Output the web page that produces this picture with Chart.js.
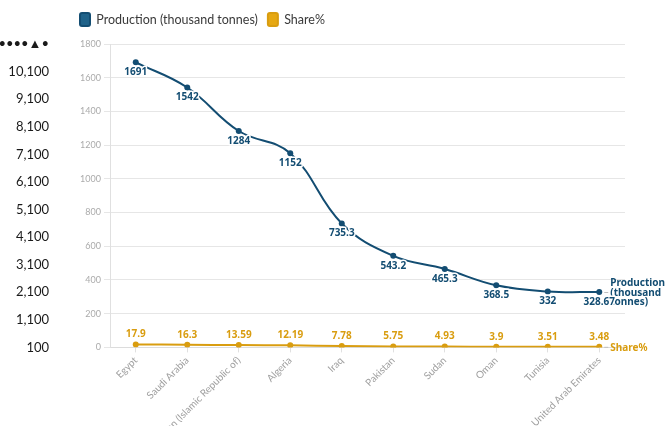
<!DOCTYPE html>
<html>
<head>
<meta charset="utf-8">
<script src="https://cdn.jsdelivr.net/npm/chart.js@4.4.1/dist/chart.umd.min.js"></script>
<style>
html,body{margin:0;padding:0;background:#fff;overflow:hidden;}
#wrap{width:665px;height:440px;}
</style>
</head>
<body>
<div id="wrap"><canvas id="c" width="665" height="440"></canvas></div>
<script>
const categories = ["Egypt","Saudi Arabia","Iran (Islamic Republic of)","Algeria","Iraq","Pakistan","Sudan","Oman","Tunisia","United Arab Emirates"];
const production = [1691, 1542, 1284, 1152, 735.3, 543.2, 465.3, 368.5, 332, 328.67];
const share = [17.9, 16.3, 13.59, 12.19, 7.78, 5.75, 4.93, 3.9, 3.51, 3.48];
const productionLabels = ["1691","1542","1284","1152","735.3","543.2","465.3","368.5","332","328.67"];
const shareLabels = ["17.9","16.3","13.59","12.19","7.78","5.75","4.93","3.9","3.51","3.48"];
const seriesNames = ["Production (thousand tonnes)", "Share%"];
const endLabelLines = [["Production","(thousand","tonnes)"], ["Share%"]];
const leftTickTop = "••••▲•";

const PROD = '#134d72', PROD_FILL = '#1f6289';
const SHARE = '#d99d10', SHARE_FILL = '#e6a812';

const legendShift = {
  id: 'legendShift',
  afterLayout(chart){
    const lg = chart.legend;
    if (lg) {
      const w = lg.right - lg.left; lg.left = 70; lg.right = 70 + w;
      lg.top -= 8; lg.bottom -= 8;
    }
  }
};

const labelsPlugin = {
  id: 'pointLabels',
  afterDatasetsDraw(chart){
    const ctx = chart.ctx;
    ctx.save();
    chart.data.datasets.forEach((ds, di) => {
      const meta = chart.getDatasetMeta(di);
      const p = meta.data[meta.data.length - 1];
      const col = di === 0 ? PROD : SHARE;
      ctx.strokeStyle = '#bfbfbf';
      ctx.lineWidth = 1;
      ctx.beginPath(); ctx.moveTo(p.x + 5, p.y + 0.5); ctx.lineTo(p.x + 9, p.y + 0.5); ctx.stroke();
      ctx.fillStyle = col;
      ctx.font = 'bold 10px "Noto Sans"';
      ctx.textAlign = 'left';
      ctx.textBaseline = 'middle';
      const lines = endLabelLines[di];
      const lh = 9.5;
      const y0 = p.y + 1 - (lines.length - 1) * lh / 2;
      lines.forEach((t, i) => ctx.fillText(t, p.x + 11, y0 + i * lh));
    });
    chart.data.datasets.forEach((ds, di) => {
      const meta = chart.getDatasetMeta(di);
      const labs = di === 0 ? productionLabels : shareLabels;
      ctx.font = 'bold 10px "Noto Sans"';
      ctx.textAlign = 'center';
      ctx.textBaseline = 'middle';
      meta.data.forEach((p, i) => {
        const y = di === 0 ? p.y + 10 : p.y - 10;
        ctx.lineWidth = 3;
        ctx.strokeStyle = '#ffffff';
        ctx.lineJoin = 'round';
        ctx.strokeText(labs[i], p.x, y);
        ctx.fillStyle = di === 0 ? PROD : SHARE;
        ctx.fillText(labs[i], p.x, y);
      });
    });
    ctx.restore();
  }
};

new Chart(document.getElementById('c'), {
  type: 'line',
  data: {
    labels: categories,
    datasets: [
      { label: seriesNames[0], data: production, borderColor: PROD, backgroundColor: PROD_FILL,
        borderWidth: 2, pointRadius: 3, pointBorderWidth: 0, pointBackgroundColor: PROD, tension: 0.4, yAxisID: 'y' },
      { label: seriesNames[1], data: share, borderColor: SHARE, backgroundColor: SHARE_FILL,
        borderWidth: 2, pointRadius: 3, pointBorderWidth: 0, pointBackgroundColor: SHARE, tension: 0.4, yAxisID: 'y' }
    ]
  },
  options: {
    responsive: false,
    animation: false,
    devicePixelRatio: 1,
    layout: { padding: { left: 0, right: 40, top: 11, bottom: 0 } },
    plugins: {
      legend: {
        position: 'top', align: 'start',
        labels: {
          boxWidth: 10, boxHeight: 13, useBorderRadius: true, borderRadius: 2,
          color: '#3a3a3a', font: { family: 'Lato', size: 12.5 }, padding: 10
        }
      },
      tooltip: { enabled: false }
    },
    scales: {
      x: {
        offset: true,
        grid: { drawOnChartArea: false, drawTicks: true, tickLength: 5, color: '#e0e0e0' },
        border: { color: '#dcdcdc' },
        ticks: { minRotation: 45, maxRotation: 45, color: '#a0a0a0', font: { family: 'Lato', size: 10 }, padding: 2, autoSkip: false }
      },
      y: {
        position: 'left', min: 0, max: 1800, weight: 0,
        grid: { color: '#e6e6e6', tickLength: 6 },
        border: { color: '#e0e0e0' },
        ticks: { stepSize: 200, color: '#ababab', font: { family: 'Lato', size: 9 }, padding: 3,
          callback(v){ return String(v); } },
        afterFit(s){ s.width = 32; }
      },
      y2: {
        position: 'left', min: 100, max: 11100, weight: 1,
        grid: { display: false, drawTicks: false },
        border: { display: false },
        ticks: { stepSize: 1000, color: '#1a1a1a', font: { family: 'Lato', size: 13 }, padding: 29,
          callback(v){ return v === 11100 ? leftTickTop : v.toLocaleString('en-US'); } },
        afterFit(s){ s.width = 78; }
      }
    }
  },
  plugins: [legendShift, labelsPlugin]
});
</script>
</body>
</html>
